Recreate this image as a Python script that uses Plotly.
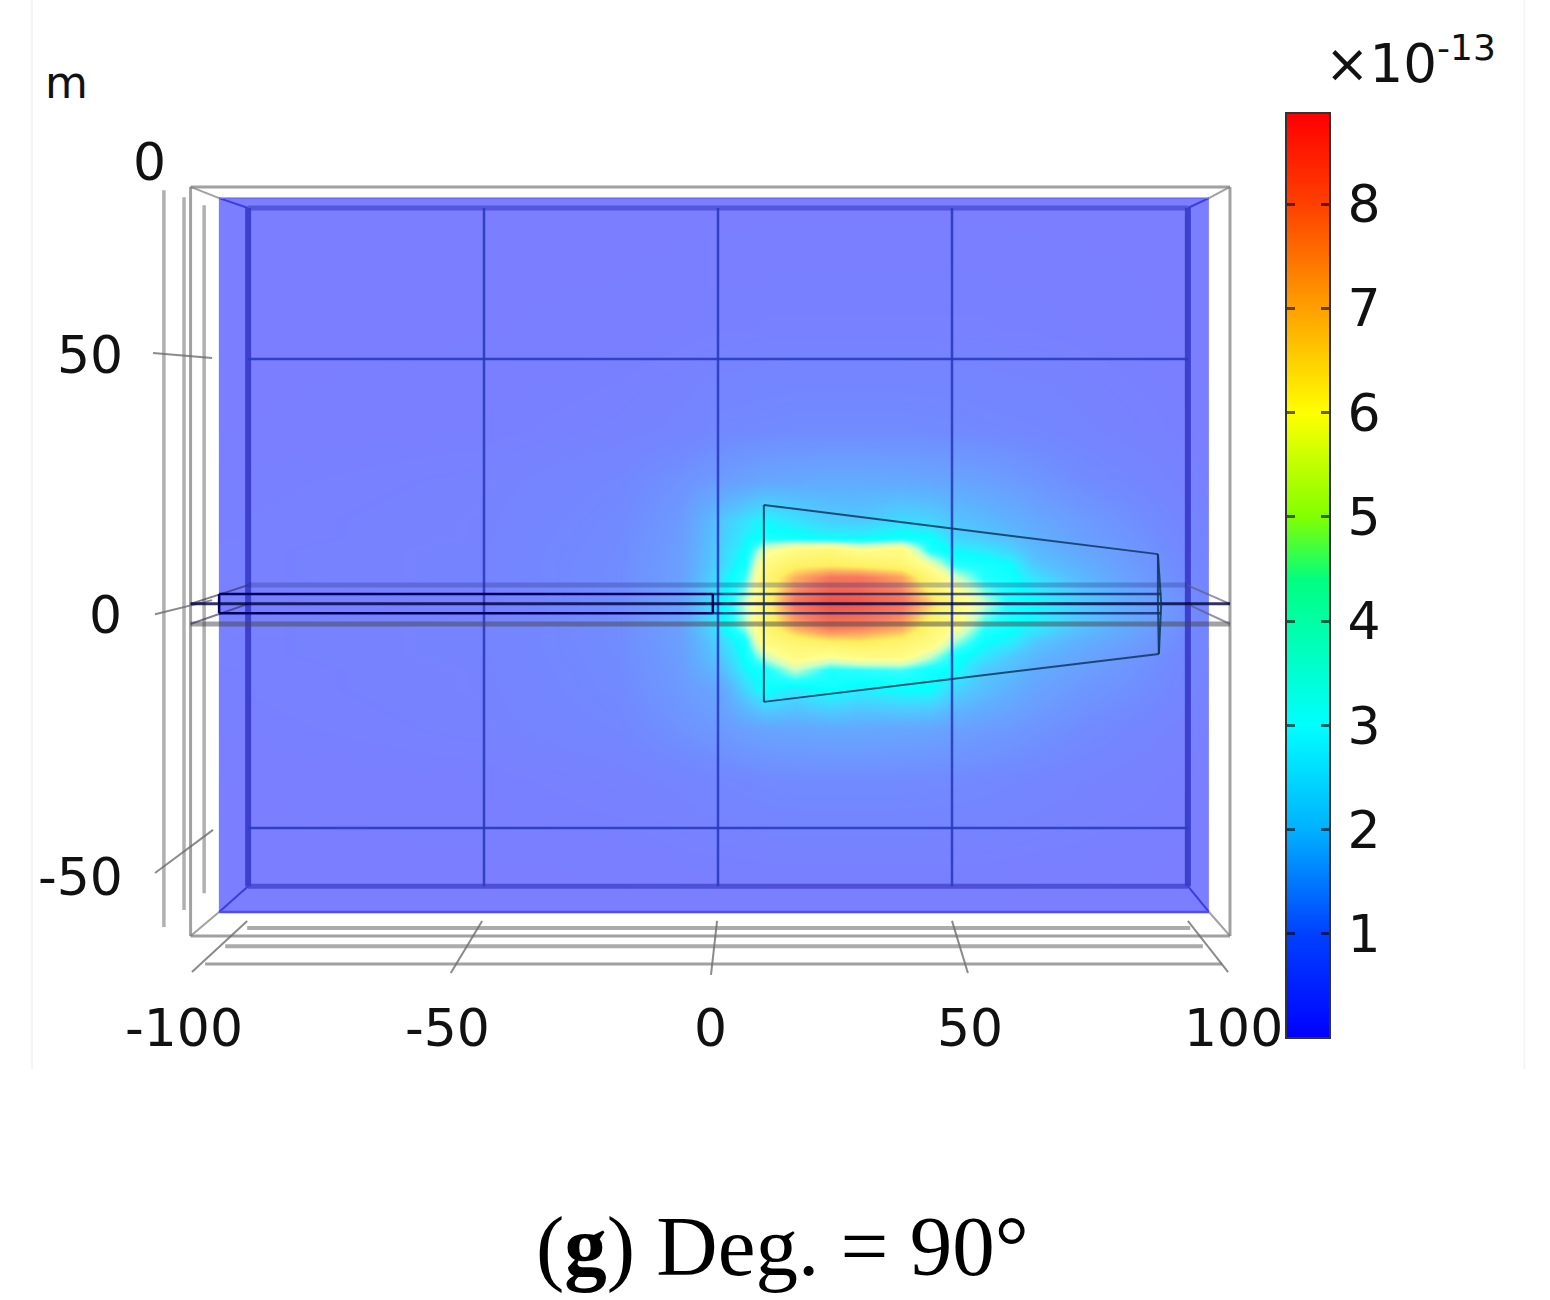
import plotly.graph_objects as go

W, H = 1550, 1300

# ---- field values (×10^-13) on a non-uniform node grid, top row first
field_x = [-106.6, -50.9, -20.9, -8.1, 1.1, 5.8, 10.1, 16.5, 24, 30.4, 39, 45.3, 50.6, 57, 62.4, 67.7, 77.4, 88, 104.9]
field_y = [84.4, 56.3, 35, 24.3, 15.8, 12.2, 9.4, 6.2, 3.6, -1.9, -7, -10.2, -13, -16.2, -20.5, -29, -39.7, -56.7, -67.8]
field_z = [
    [.08, .08, .08, .08, .08, .08, .08, .08, .08, .08, .08, .08, .08, .08, .08, .08, .08, .08, .08],
    [.08, .10, .12, .15, .18, .18, .20, .20, .20, .20, .20, .20, .20, .20, .18, .18, .15, .12, .08],
    [.10, .15, .25, .35, .50, .52, .55, .58, .58, .58, .58, .56, .55, .50, .48, .45, .35, .25, .12],
    [.15, .25, .45, .75, 1.0, 1.15, 1.25, 1.3, 1.35, 1.35, 1.3, 1.25, 1.2, 1.1, 1.0, .85, .62, .45, .18],
    [.18, .28, .55, .95, 2.0, 2.4, 2.7, 2.4, 2.1, 2.0, 2.3, 2.2, 1.9, 1.7, 1.5, 1.3, 1.0, .70, .25],
    [.18, .28, .58, 1.0, 2.1, 2.6, 3.0, 2.9, 2.7, 2.7, 2.9, 2.8, 2.2, 2.0, 1.8, 1.5, 1.1, .80, .27],
    [.20, .30, .60, 1.05, 2.2, 2.8, 4.2, 4.9, 5.2, 4.6, 4.9, 3.1, 2.7, 2.5, 2.2, 1.7, 1.3, .90, .30],
    [.20, .30, .62, 1.08, 2.3, 3.0, 5.0, 5.8, 6.0, 5.8, 5.5, 4.4, 3.2, 3.0, 2.8, 2.0, 1.5, 1.0, .32],
    [.20, .30, .62, 1.1, 2.5, 3.3, 5.3, 6.8, 7.7, 7.7, 7.0, 5.3, 4.0, 3.1, 2.9, 2.4, 1.7, 1.1, .35],
    [.15, .25, .62, 1.15, 2.8, 3.9, 5.6, 7.8, 8.8, 8.6, 7.9, 6.5, 5.2, 3.9, 3.1, 2.8, 2.1, 1.4, .40],
    [.20, .30, .62, 1.1, 2.7, 3.7, 5.4, 6.9, 7.8, 7.6, 7.0, 5.5, 4.6, 3.2, 2.9, 2.6, 1.9, 1.3, .35],
    [.20, .30, .62, 1.08, 2.3, 3.0, 5.0, 5.5, 5.9, 6.0, 5.6, 5.0, 3.7, 2.8, 2.6, 2.0, 1.5, 1.1, .32],
    [.20, .30, .60, 1.05, 2.1, 2.9, 4.0, 5.0, 4.6, 5.0, 5.0, 4.0, 3.0, 2.5, 2.1, 1.7, 1.3, .90, .30],
    [.18, .28, .58, 1.0, 1.8, 2.7, 3.0, 3.9, 3.1, 3.2, 3.3, 2.9, 2.8, 2.0, 1.8, 1.4, 1.1, .80, .27],
    [.18, .28, .55, .95, 1.3, 2.2, 2.9, 2.5, 2.9, 2.6, 2.8, 2.8, 2.2, 1.8, 1.5, 1.2, .90, .70, .25],
    [.15, .25, .45, .75, .95, 1.1, 1.2, 1.25, 1.3, 1.3, 1.25, 1.2, 1.1, 1.0, .92, .80, .60, .42, .18],
    [.10, .15, .25, .35, .46, .50, .55, .58, .58, .58, .58, .56, .55, .50, .46, .42, .32, .24, .12],
    [.08, .10, .12, .16, .18, .18, .20, .20, .20, .20, .20, .20, .20, .20, .18, .16, .15, .12, .08],
    [.08, .08, .08, .08, .08, .08, .08, .08, .08, .08, .08, .08, .08, .08, .08, .08, .08, .08, .08],
]
Z_MAX = 8.863

# ---- colour bar levels and tick labels
bar_levels = [0.012, .5, 1, 1.5, 2, 2.5, 3, 3.5, 4, 4.5, 5, 5.5, 6, 6.5, 7, 7.5, 8, 8.5, Z_MAX]
bar_ticks = [1, 2, 3, 4, 5, 6, 7, 8]

# ---- axis annotations: text, x, y in data units
x_labels = ["-100", "-50", "0", "50", "100"]
x_label_pos = [-114.1, -57.9, -1.7, 53.8, 110.2]
x_label_y = -92.5
y_labels = ["0", "50", "0", "-50"]
y_label_x = [-121.4, -134.2, -130.8, -136.3]
y_label_pos = [92.1, 51, -4.5, -60.3]

FIELD_STOPS = [(0, "#7c7cff"), (.5, "#7288ff"), (1, "#6c9cff"), (1.5, "#5fb0ff"), (2, "#50c8ff"),
               (2.5, "#30e8ff"), (2.8, "#08ffff"), (3.2, "#28ffff"), (3.9, "#c8ffc8"), (4.5, "#ffff90"),
               (6, "#fff060"), (6.8, "#ffb060"), (7.6, "#f87c60"), (8.8, "#ee5048"), (Z_MAX, "#ee5048")]
JET_STOPS = [(0, "#0000ff"), (1, "#0040ff"), (2, "#00b0ff"), (3, "#00ffff"), (4.4, "#00ff80"),
             (5, "#80ff00"), (6, "#ffff00"), (7, "#ffa000"), (8, "#ff4000"), (Z_MAX, "#ff0000")]
def scale(stops):
    return [[v / Z_MAX, c] for v, c in stops]

# keep the field's outer bins thin so that it ends exactly on the outer nodes
px_ = [field_x[0]] + [field_x[0] + .1] + field_x[1:-1] + [field_x[-1] - .1] + [field_x[-1]]
py_ = [field_y[0]] + [field_y[0] - .1] + field_y[1:-1] + [field_y[-1] + .1] + [field_y[-1]]
zz = [[r[0], r[0]] + r[1:-1] + [r[-1], r[-1]] for r in field_z]
zz = [zz[0], zz[0]] + zz[1:-1] + [zz[-1], zz[-1]]

fig = go.Figure()
fig.add_trace(go.Heatmap(x=px_, y=py_[::-1], z=zz[::-1], zsmooth="best", zmin=0, zmax=Z_MAX,
                         colorscale=scale(FIELD_STOPS), showscale=False, hoverinfo="skip",
                         xaxis="x", yaxis="y"))
fig.add_trace(go.Heatmap(x=[0, 1], y=bar_levels, z=[[v, v] for v in bar_levels], zsmooth="best",
                         zmin=0, zmax=Z_MAX, colorscale=scale(JET_STOPS), showscale=False,
                         hoverinfo="skip", xaxis="x2", yaxis="y2"))

shapes = []
def line(xs, ys, color, width):
    for i in range(len(xs) - 1):
        shapes.append(dict(type="line", xref="x", yref="y", x0=xs[i], y0=ys[i], x1=xs[i + 1], y1=ys[i + 1],
                           line=dict(color=color, width=width)))

GRAY = "rgba(130,130,130,0.75)"
THIN = "rgba(110,110,110,0.8)"
# outer box
line([-112.7, 109.4, 109.4], [86.8, 86.8, -72.9], GRAY, 3)
line([-112.7, -112.7, 109.4], [86.8, -72.9, -72.9], GRAY, 3)
# left-hand axis rails
line([-118.4, -118.4], [86.1, -71], "rgba(150,150,150,.75)", 3.5)
line([-114.1, -114.1], [84.6, -67.4], "rgba(150,150,150,.75)", 3.5)
line([-109.8, -109.8], [82.9, -63.8], "rgba(150,150,150,.75)", 3.5)
# floor rails
line([-100.6, 100.9], [-71.2, -71.2], "rgba(150,150,150,.8)", 4)
line([-105.3, 103.6], [-75.1, -75.1], "rgba(150,150,150,.8)", 4)
line([-109.6, 107.7], [-78.9, -78.9], GRAY, 3)
# box corners, outside the field
line([-112.7, -106.6], [86.8, 84.4], GRAY, 2)
line([109.4, 104.9], [86.8, 84.4], GRAY, 2)
line([-112.7, -106.6], [-72.9, -67.8], GRAY, 2)
line([109.4, 104.9], [-72.9, -67.8], GRAY, 2)
# box corners, over the field
BLUE = "#3c3ce0"
line([-106.6, -100.4], [84.4, 82.3], BLUE, 2)
line([104.9, 100.4], [84.4, 82.3], BLUE, 2)
line([-106.6, -100.4], [-67.8, -62.3], BLUE, 2)
line([104.9, 100.4], [-67.8, -62.3], BLUE, 2)
# x ticks
line([-112.4, -100.6], [-80.6, -69.7], THIN, 2)
line([-57.1, -50.4], [-80.8, -69.7], THIN, 2)
line([-1.5, -0.2], [-81.2, -69.7], THIN, 2)
line([53.4, 50], [-80.8, -69.7], THIN, 2)
line([109, 100.4], [-80.6, -69.7], THIN, 2)
# y ticks
line([-120.7, -108.1], [51.4, 50.3], THIN, 2)
line([-120.3, -108.1], [-4.3, -1.3], THIN, 2)
line([-120.3, -107.9], [-59.5, -50.3], THIN, 2)
# field rim
line([-106.6, 104.9], [84.4, 84.4], "#6a6aff", 1.5)
line([-106.6, 104.9], [-67.8, -67.8], "#4c4cff", 2.5)
# back-plane frame
line([-100.4, -100.4], [82.3, -62.3], "#3c40cc", 6)
line([100.4, 100.4], [82.3, -62.3], "#3c40cc", 6)
line([-100.4, 100.4], [82.3, 82.3], "rgba(60,60,200,.6)", 5)
line([-100.4, 100.4], [-62.3, -62.3], "rgba(60,60,200,.7)", 5)
# grid
GRID = "rgba(40,60,190,.9)"
for gx in [-50, 0, 50]:
    line([gx, gx], [82.3, -62.3], GRID, 2.5)
for gy in [50.1, -49.9]:
    line([-100.4, 100.4], [gy, gy], GRID, 2.5)
# slab lines
line([-100.4, 100.2], [1.9, 1.9], "rgba(40,50,130,.3)", 5)
line([-112.7, 109.4], [-6.4, -6.4], "rgba(70,70,70,.5)", 5)
line([-112.7, -100.4], [-2.1, 1.9], "rgba(50,50,90,.65)", 2)
line([-112.7, -100.4], [-6.4, -2.1], "rgba(50,50,90,.65)", 2)
line([100.2, 109.4], [1.9, -2.1], "rgba(90,90,120,.65)", 2)
line([100.2, 109.4], [-2.1, -6.4], "rgba(90,90,120,.65)", 2)
line([-112.7, 109.4], [-2.1, -2.1], "rgba(0,0,60,.8)", 3)
line([-1.1, 94.7], [0, 0], "rgba(0,20,90,.7)", 2.5)
line([-1.1, 94.7], [-4.1, -4.1], "rgba(0,20,90,.7)", 2.5)
# thin beam
line([-106.6, -1.1, -1.1, -106.6, -106.6], [0, 0, -4.1, -4.1, 0], "#000060", 2.5)
# cone
CONE = "rgba(15,55,90,.85)"
line([9.8, 94, 94.7, 94.2, 9.8, 9.8], [19, 8.5, -2.1, -12.8, -23, 19], CONE, 2)
line([94, 94, 94.2], [8.5, -2.1, -12.8], CONE, 2)
# outer page edges
line([-146.6, -146.6], [126.6, -101.3], "#f4f4f4", 2)
line([172.3, 172.3], [126.6, -101.3], "#f4f4f4", 2)

annotations = []
def text(t, x, y, size, ref="x", family="DejaVu Sans", color="#111111", xanchor="center"):
    annotations.append(dict(text=t, x=x, y=y, xref=ref, yref="y" if ref == "x" else "paper", showarrow=False,
                            xanchor=xanchor, yanchor="middle", font=dict(family=family, size=size, color=color)))
for t, x in zip(x_labels, x_label_pos):
    text(t, x, x_label_y, 52)
for t, x, y in zip(y_labels, y_label_x, y_label_pos):
    text(t, x, y, 52)
text("m", -139.3, 109, 44)
text("×10", 1381 / W, 1 - 64 / H, 53, ref="paper")
text("-13", 1466 / W, 1 - 47 / H, 36, ref="paper")
text("(<b>g</b>) Deg. = 90°", 782 / W, 1 - 1246 / H, 85, ref="paper", family="Liberation Serif", color="#000000")

fig.update_layout(
    width=W, height=H, autosize=False, margin=dict(l=0, r=0, t=0, b=0),
    paper_bgcolor="white", plot_bgcolor="rgba(0,0,0,0)", showlegend=False,
    shapes=shapes, annotations=annotations,
    xaxis=dict(domain=[0, 1], range=[-153.42, 177.78], visible=False, fixedrange=True),
    yaxis=dict(domain=[0, 1], range=[-150.53, 126.65], visible=False, fixedrange=True),
    xaxis2=dict(domain=[1287 / W, 1329 / W], range=[0, 1], anchor="y2", showticklabels=False, ticks="",
                showline=True, mirror=True, linecolor="#333333", linewidth=2, showgrid=False, zeroline=False,
                fixedrange=True),
    yaxis2=dict(domain=[1 - 1037 / H, 1 - 114 / H], range=[0.012, Z_MAX], anchor="x2", side="right",
                tickvals=bar_ticks, ticktext=[str(v) for v in bar_ticks], ticks="inside", ticklen=8, tickwidth=3,
                tickcolor="rgba(0,0,0,.6)", mirror="ticks", showline=True, linecolor="#333333", linewidth=2,
                showgrid=False, zeroline=False, ticklabelstandoff=6, fixedrange=True,
                tickfont=dict(family="DejaVu Sans", size=52, color="#111111")),
)
fig.write_html("out.html", config=dict(displayModeBar=False), post_script="document.body.style.margin='0';")
